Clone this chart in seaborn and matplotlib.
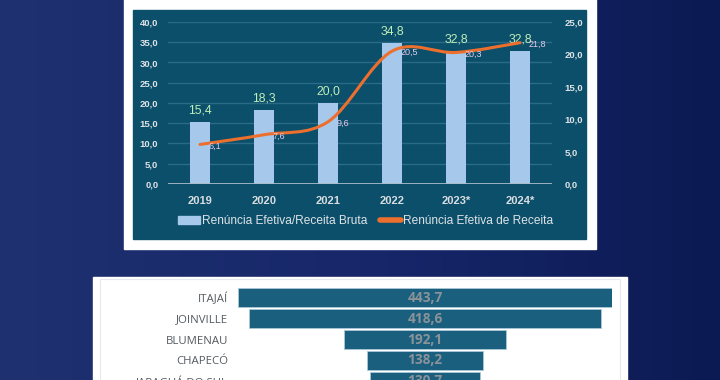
import matplotlib
matplotlib.use("Agg")
import matplotlib.pyplot as plt
import seaborn as sns
import numpy as np
import pandas as pd
from matplotlib.patches import Rectangle, Patch, PathPatch
from matplotlib.lines import Line2D
from matplotlib.path import Path

# Dados do gráfico superior
anos = ["2019", "2020", "2021", "2022", "2023*", "2024*"]
renuncia_receita_bruta = [15.4, 18.3, 20.0, 34.8, 32.8, 32.8]
renuncia_efetiva = [6.1, 7.6, 9.6, 20.5, 20.3, 21.8]
ticks_esq = [0, 5, 10, 15, 20, 25, 30, 35, 40]
ticks_dir = [0, 5, 10, 15, 20, 25]

# Dados do funil (municípios)
municipios = ["ITAJAÍ", "JOINVILLE", "BLUMENAU", "CHAPECÓ", "JARAGUÁ DO SUL"]
valores_mun = [443.7, 418.6, 192.1, 138.2, 130.7]

W, H = 720, 380
sns.set_theme(style="white")
plt.rcParams["font.family"] = ["Liberation Sans", "DejaVu Sans"]

fig = plt.figure(figsize=(W / 100, H / 100), dpi=100)


def fx(px):
    return px / W


def fy(py):
    return 1 - py / H


# fundo azul com degradê
bg = fig.add_axes([0, 0, 1, 1], zorder=-10)
grad = np.linspace(0, 1, 256).reshape(1, -1)
cmap = matplotlib.colors.LinearSegmentedColormap.from_list("bg", ["#1f3170", "#17276a", "#0c1a53"])
bg.imshow(grad, aspect="auto", cmap=cmap, extent=[0, 1, 0, 1])
bg.set_axis_off()

# painéis
bg.add_patch(Rectangle((fx(124), fy(249)), fx(596 - 124), (249 + 5) / H, color="white", transform=bg.transAxes))
bg.add_patch(Rectangle((fx(133), fy(239)), fx(586 - 133), (239 - 10) / H, color="#0b4f6b", transform=bg.transAxes))
bg.add_patch(Rectangle((fx(93), fy(385)), fx(627 - 93), (385 - 277) / H, color="white", transform=bg.transAxes))
bg.add_patch(Rectangle((fx(100), fy(385)), fx(620 - 100), (385 - 279) / H, facecolor="none",
                       edgecolor="#e6e9ee", lw=0.8, transform=bg.transAxes))
bg.set_xlim(0, 1)
bg.set_ylim(0, 1)

# gráfico principal
ax = fig.add_axes([fx(168), fy(184), fx(552 - 168), (184 - 22) / H])
ax.set_facecolor("none")
df = pd.DataFrame({"ano": anos, "valor": renuncia_receita_bruta})
sns.barplot(data=df, x="ano", y="valor", color="#a6c8ea", width=0.31, saturation=1,
            linewidth=0, ax=ax, zorder=3)
ax.set_ylim(0, 40)
ax.set_xlim(-0.5, len(anos) - 0.5)
ax.set_yticks(ticks_esq)
ax.set_yticklabels([f"{t:.1f}".replace(".", ",") for t in ticks_esq])
ax.yaxis.grid(True, color="#2b6a86", lw=1)
ax.set_axisbelow(True)
for s in ax.spines.values():
    s.set_visible(False)
ax.axhline(0, color="#a9bcc8", lw=2, zorder=4)
ax.tick_params(axis="y", length=0, pad=7, labelsize=6.8, labelcolor="#dfe3e6")
ax.tick_params(axis="x", length=0, pad=9, labelsize=8, labelcolor="#d9dde0")
for lbl in ax.get_xticklabels() + ax.get_yticklabels():
    lbl.set_fontweight("bold")
ax.set_xlabel("")
ax.set_ylabel("")
for i, v in enumerate(renuncia_receita_bruta):
    ax.annotate(f"{v:.1f}".replace(".", ","), (i, v), xytext=(0, 4), textcoords="offset points",
                ha="center", va="bottom", fontsize=8.8, color="#bfeeb8", zorder=6)

# eixo secundário com linha suavizada
ax2 = ax.twinx()
ax2.set_ylim(0, 25)
ax2.set_yticks(ticks_dir)
ax2.set_yticklabels([f"{t:.1f}".replace(".", ",") for t in ticks_dir])
ax2.tick_params(axis="y", length=0, pad=9, labelsize=6.8, labelcolor="#dfe3e6")
for lbl in ax2.get_yticklabels():
    lbl.set_fontweight("bold")
for s in ax2.spines.values():
    s.set_visible(False)
ax2.grid(False)

xs = np.arange(len(anos), dtype=float)
ys = np.array(renuncia_efetiva, dtype=float)
pts = np.column_stack([xs, ys])
ext = np.vstack([pts[0], pts, pts[-1]])
verts = [tuple(pts[0])]
codes = [Path.MOVETO]
for i in range(len(pts) - 1):
    p0, p1, p2, p3 = ext[i], ext[i + 1], ext[i + 2], ext[i + 3]
    c1 = p1 + (p2 - p0) / 6
    c2 = p2 - (p3 - p1) / 6
    verts += [tuple(c1), tuple(c2), tuple(p2)]
    codes += [Path.CURVE4] * 3
ax2.add_patch(PathPatch(Path(verts, codes), facecolor="none", edgecolor="#ec6f2d", lw=2.2,
                        capstyle="round", zorder=5))
for i, v in enumerate(renuncia_efetiva):
    ax2.annotate(f"{v:.1f}".replace(".", ","), (i, v), xytext=(6, -1), textcoords="offset points",
                 ha="left", va="center", fontsize=6.5, color="#e9c9ea", zorder=6)

handles = [Patch(color="#a6c8ea"), Line2D([], [], color="#ec6f2d", lw=4, solid_capstyle="round")]
fig.legend(handles, ["Renúncia Efetiva/Receita Bruta", "Renúncia Efetiva de Receita"],
           loc="center", bbox_to_anchor=(fx(366), fy(221)), ncol=2, frameon=False,
           fontsize=8.6, labelcolor="#dfe3e6", handlelength=1.8, handleheight=0.6,
           handletextpad=0.2, columnspacing=1.0)

# funil dos municípios
axf = fig.add_axes([fx(238), fy(393), fx(612 - 238), (393 - 286) / H])
axf.set_facecolor("none")
pos = np.arange(len(municipios))
vals = np.array(valores_mun)
axf.barh(pos, vals, left=-vals / 2, height=0.9, color="#1a5f7e", edgecolor="#a9c9d8", lw=0.6)
axf.set_xlim(-max(vals) / 2, max(vals) / 2)
axf.set_ylim(len(municipios) - 0.45, -0.55)
axf.set_yticks(pos)
axf.set_yticklabels(municipios, family=["Open Sans", "DejaVu Sans"])
axf.tick_params(axis="y", length=0, pad=7, labelsize=8.2, labelcolor="#555a60")
axf.set_xticks([])
for s in axf.spines.values():
    s.set_visible(False)
for i, v in enumerate(valores_mun):
    axf.text(0, i, f"{v:.1f}".replace(".", ","), ha="center", va="center", fontsize=9.8,
             fontweight="bold", color="#8a9399", family=["Open Sans", "DejaVu Sans"])

fig.savefig("out.png", dpi=100)
